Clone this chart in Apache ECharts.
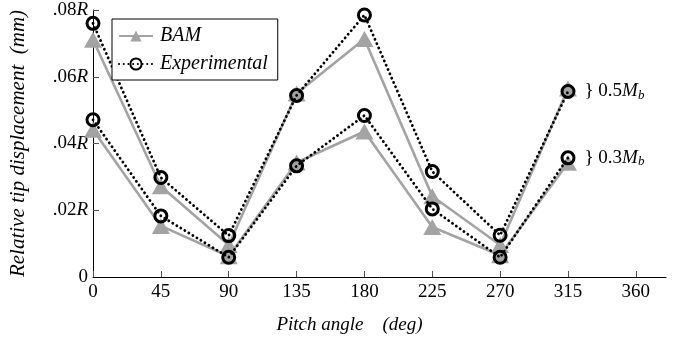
<!DOCTYPE html>
<html><head><meta charset="utf-8">
<script src="https://cdn.jsdelivr.net/npm/echarts@6/dist/echarts.min.js"></script>
<style>html,body{margin:0;padding:0;background:#fff}#c{width:678px;height:339px}</style>
</head><body><div id="c"></div>
<script>
const angles = [0, 45, 90, 135, 180, 225, 270, 315];
const bamHigh = [0.0711, 0.0272, 0.0096, 0.0550, 0.0713, 0.0242, 0.0096, 0.0565];
const expHigh = [0.0760, 0.0298, 0.0124, 0.0544, 0.0785, 0.0316, 0.0125, 0.0556];
const bamLow  = [0.0441, 0.0153, 0.0062, 0.0343, 0.0436, 0.0150, 0.0065, 0.0342];
const expLow  = [0.0471, 0.0183, 0.0059, 0.0333, 0.0484, 0.0204, 0.0059, 0.0357];
const xTicks = [0, 45, 90, 135, 180, 225, 270, 315, 360];
const yTicks = [0, 0.02, 0.04, 0.06, 0.08];
const seriesNames = ['BAM', 'Experimental'];
const groupLabels = ['0.5', '0.3'];

const FONT = '"Liberation Serif", "DejaVu Serif", serif';
const GRAY = '#a3a3a3';
const pairs = (ys) => angles.map((a, i) => [a, ys[i]]);

function bamSeries(ys) {
  return {
    name: seriesNames[0], type: 'line', data: pairs(ys), z: 2,
    symbol: 'triangle', symbolSize: [18, 16],
    lineStyle: {color: GRAY, width: 2.6},
    itemStyle: {color: GRAY},
    emphasis: {disabled: true}, animation: false
  };
}
function expSeries(ys, label) {
  const d = pairs(ys).map((p, i) => {
    if (i === ys.length - 1) {
      return {value: p, label: {show: true, position: 'right', distance: 9,
        formatter: '} ' + label + '{i|M}{s|b}',
        fontFamily: FONT, fontSize: 19, color: '#000',
        rich: {i: {fontFamily: FONT, fontStyle: 'italic', fontSize: 19, color: '#000'},
               s: {fontFamily: FONT, fontStyle: 'italic', fontSize: 13, color: '#000', verticalAlign: 'bottom', padding: [8, 0, 0, 0]}}}};
    }
    return {value: p};
  });
  return {
    name: seriesNames[1], type: 'line', data: d, z: 3,
    symbol: 'circle', symbolSize: 12,
    lineStyle: {color: '#000', width: 2.8, type: [0.1, 4.6], cap: 'round'},
    itemStyle: {color: 'rgba(0,0,0,0)', borderColor: '#000', borderWidth: 3},
    emphasis: {disabled: true}, animation: false
  };
}

const chart = echarts.init(document.getElementById('c'), null, {renderer: 'canvas'});
chart.setOption({
  animation: false,
  grid: {left: 92, right: 12, top: 10, bottom: 60},
  legend: {
    orient: 'vertical', left: 112, top: 19,
    data: seriesNames,
    backgroundColor: '#fff', borderColor: '#000', borderWidth: 1,
    padding: [7, 10, 6, 6], itemGap: 8, itemWidth: 34, itemHeight: 14,
    textStyle: {fontFamily: FONT, fontStyle: 'italic', fontSize: 20, color: '#000', padding: [0, 0, 0, 2]}
  },
  xAxis: {
    type: 'value', min: 0, max: 380, interval: 45,
    name: 'Pitch angle    (deg)', nameLocation: 'middle', nameGap: 38,
    nameTextStyle: {fontFamily: FONT, fontStyle: 'italic', fontSize: 19, color: '#000', padding: [0, 60, 0, 0]},
    axisLine: {show: true, lineStyle: {color: '#000', width: 1}},
    axisTick: {show: true, inside: true, length: 6, customValues: xTicks, lineStyle: {color: '#555'}},
    axisLabel: {customValues: xTicks, fontFamily: FONT, fontSize: 19, color: '#000', margin: 6},
    splitLine: {show: false}
  },
  yAxis: {
    type: 'value', min: 0, max: 0.08, interval: 0.02,
    name: 'Relative tip displacement  (mm)', nameLocation: 'middle', nameGap: 64, nameRotate: 90,
    nameTextStyle: {fontFamily: FONT, fontStyle: 'italic', fontSize: 21, color: '#000'},
    axisLine: {show: true, lineStyle: {color: '#000', width: 1}},
    axisTick: {show: true, inside: true, length: 6, customValues: yTicks.slice(1), lineStyle: {color: '#555'}},
    axisLabel: {
      customValues: yTicks, margin: 5, fontFamily: FONT, fontSize: 19, color: '#000',
      formatter: (v) => v === 0 ? '0' : '.0' + Math.round(v * 100) + '{i|R}',
      rich: {i: {fontFamily: FONT, fontStyle: 'italic', fontSize: 19, color: '#000'}}
    },
    splitLine: {show: false}
  },
  series: [
    bamSeries(bamHigh), bamSeries(bamLow),
    expSeries(expHigh, groupLabels[0]), expSeries(expLow, groupLabels[1])
  ]
});
</script></body></html>
